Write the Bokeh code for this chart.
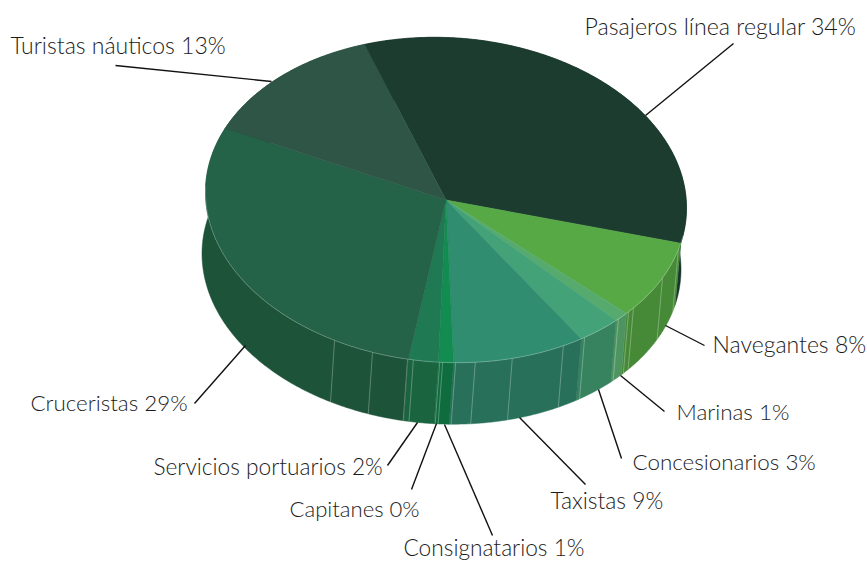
import numpy as np
from bokeh.plotting import figure
from bokeh.models import ColumnDataSource, Range1d
from bokeh.core.properties import value
from bokeh.embed import file_html
from bokeh.resources import INLINE

# Shares of each user group, clockwise from the start of the first slice
names = ["Pasajeros línea regular", "Navegantes", "Marinas", "Concesionarios", "Taxistas",
         "Consignatarios", "Capitanes", "Servicios portuarios", "Cruceristas", "Turistas náuticos"]
shares = [34, 8, 1, 3, 9, 1, 0, 2, 29, 13]
top_colors = ["#1c3c30", "#57a945", "#57aa6e", "#43a277", "#318d70",
              "#128c50", "#14824c", "#1f7a54", "#256349", "#2e5546"]
side_colors = ["#17352a", "#468a38", "#4e9460", "#37825f", "#28705a",
               "#0e6c3e", "#0f663c", "#1a6440", "#1c5339", "#244a3c"]

# Label layout: left edge, vertical centre, font size
label_x = [584, 712, 676, 632, 550, 403, 289, 153, 30, 10]
label_y = [25, 343, 411, 461, 499, 547, 508, 466, 402, 44]
label_size = ["23.2px", "23px", "22.4px", "22.4px", "22.8px", "22.7px", "22.1px", "22.7px", "22.4px", "23px"]

# Leader lines: (x0, y0, x1, y1)
leaders = [(645, 115, 733, 43), (665, 325, 704, 345), (620, 375, 664, 411),
           (598, 389, 621, 458), (519, 417, 585, 484), (444, 424, 492, 535),
           (436, 423, 411, 489), (417, 422, 387, 465), (245, 345, 194, 403),
           (271, 81, 115, 65)]

# Faint seams on the rim, in degrees clockwise from the top
seam_angles = [105, 115.8, 128.8, 130.6, 134.2, 144.8, 150.8, 164, 173, 177.7,
               180.8, 181.5, 187.8, 189.2, 197.8, 207.6]

# Projection of the disc: top face, lower rim, and the slight tilt of both
CX, CY, RX, RY = 445.5, 199.5, 240.5, 162.5
BX, BY, BRX = 441, 261, 239.5
TILT = 0.033
START = -19.8


def top_pt(a):
    r = np.radians(a)
    dx = RX * np.sin(r)
    return CX + dx, CY - RY * np.cos(r) + TILT * dx


def bot_pt(a):
    r = np.radians(a)
    dx = BRX * np.sin(r)
    return BX + dx, BY - RY * np.cos(r) + TILT * dx


p = figure(width=867, height=562, output_backend="svg", toolbar_location=None,
           x_range=Range1d(0, 867), y_range=Range1d(562, 0), min_border=0,
           outline_line_color=None, background_fill_color="white")
p.axis.visible = False
p.grid.visible = False

edges = START + np.cumsum([0] + shares) * 3.6

# Rim first, then the leader lines, then the top face over both
sx, sy, sc = [], [], []
for i in range(len(shares)):
    if shares[i] == 0:
        continue
    a = np.linspace(edges[i], edges[i + 1], max(3, int(shares[i] * 8)))
    tx, ty = top_pt(a)
    bx, by = bot_pt(a[::-1])
    sx.append(np.concatenate([tx, bx]))
    sy.append(np.concatenate([ty, by]))
    sc.append(side_colors[i])
p.patches(sx, sy, fill_color=sc, line_color=sc, line_width=0.5)

for a in seam_angles:
    x0, y0 = top_pt(a)
    x1, y1 = bot_pt(a)
    p.line([x0, x1], [y0, y1], line_color="white", line_alpha=0.32, line_width=0.9)

p.multi_line([[l[0], l[2]] for l in leaders], [[l[1], l[3]] for l in leaders],
             line_color="#111111", line_width=1.4)

tx_all, ty_all, tc = [], [], []
for i in range(len(shares)):
    if shares[i] == 0:
        continue
    a = np.linspace(edges[i], edges[i + 1], max(3, int(shares[i] * 8)))
    x, y = top_pt(a)
    tx_all.append(np.concatenate([[CX], x]))
    ty_all.append(np.concatenate([[CY], y]))
    tc.append(top_colors[i])
p.patches(tx_all, ty_all, fill_color=tc, line_color=tc, line_width=0.5)

# Pale line along the front edge of the top face
fa = np.linspace(100, 272, 200)
fx, fy = top_pt(fa)
p.line(fx, fy, line_color="white", line_alpha=0.3, line_width=0.8)

texts = [f"{n} {s}%" for n, s in zip(names, shares)]
src = ColumnDataSource(dict(x=label_x, y=label_y, t=texts, s=label_size))
p.text("x", "y", text="t", source=src, text_font=value("Lato Light"), text_font_size="s",
       text_color="#1c1c1c", text_align="left", text_baseline="middle")

open("out.html", "w").write(file_html(p, INLINE))
